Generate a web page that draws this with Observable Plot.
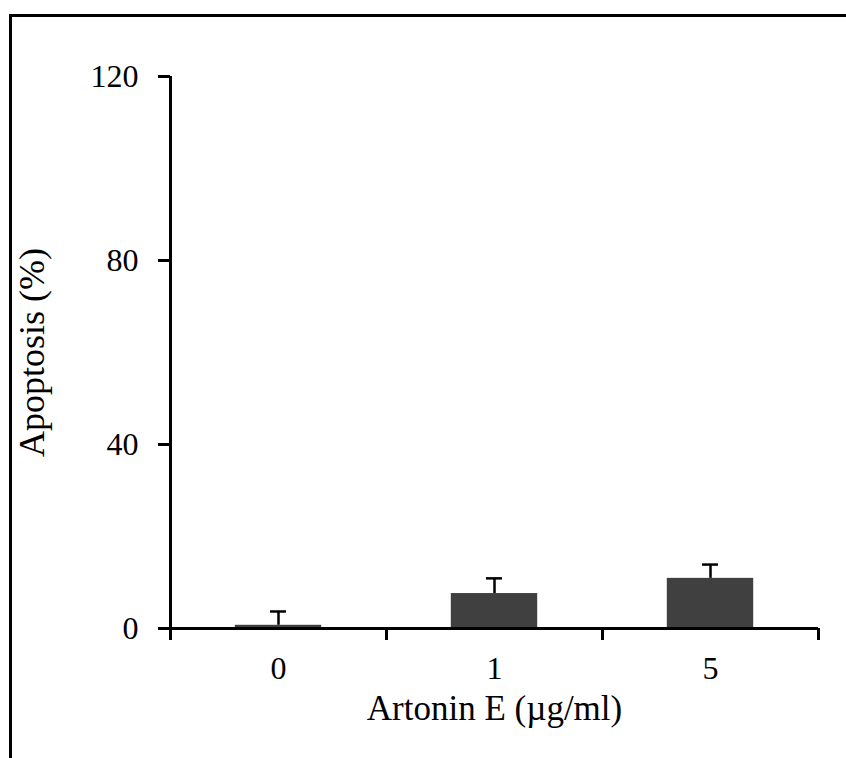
<!DOCTYPE html>
<html>
<head>
<meta charset="utf-8">
<script src="https://cdn.jsdelivr.net/npm/d3@7"></script>
<script src="https://cdn.jsdelivr.net/npm/@observablehq/plot@0.6"></script>
<style>
  html, body { margin: 0; padding: 0; background: #fff; overflow: hidden; }
  #wrap { position: relative; width: 846px; height: 758px; }
  #border { position: absolute; left: 9px; top: 14px; width: 900px; height: 800px;
            border-left: 3px solid #000; border-top: 3px solid #000; pointer-events: none; }
</style>
</head>
<body>
<div id="wrap"><div id="border"></div></div>
<script>
const categories = ["0", "1", "5"];
const values = [0.7, 7.6, 10.9];
const errors = [3.0, 3.3, 3.0];
const yTicks = [0, 40, 80, 120];
const xLabel = "Artonin E (µg/ml)";
const yLabel = "Apoptosis (%)";

const data = categories.map((c, i) => ({i, cat: c, value: values[i], err: errors[i]}));
const font = "'Liberation Serif', 'Times New Roman', serif";

const chart = Plot.plot({
  width: 846,
  height: 758,
  marginLeft: 170,
  marginRight: 28,
  marginTop: 76,
  marginBottom: 130,
  style: {fontFamily: font, fontSize: "32px", color: "#000", background: "transparent"},
  x: {domain: [0, categories.length], axis: null},
  y: {domain: [0, 120], axis: null},
  marks: [
    Plot.rectY(data, {x1: d => d.i + 0.3, x2: d => d.i + 0.7, y: "value", fill: "#404040"}),
    Plot.ruleX(data, {x: d => d.i + 0.5, y1: "value", y2: d => d.value + d.err, stroke: "#000", strokeWidth: 2.5}),
    Plot.ruleY(data, {x1: d => d.i + 0.463, x2: d => d.i + 0.537, y: d => d.value + d.err, stroke: "#000", strokeWidth: 2.5}),
    // y axis line
    Plot.ruleX([0], {y1: 0, y2: 120, stroke: "#000", strokeWidth: 3}),
    // x axis line
    Plot.ruleY([0], {x1: 0, x2: categories.length, stroke: "#000", strokeWidth: 3}),
    Plot.axisY({ticks: yTicks, tickSize: 12, tickPadding: 20, strokeWidth: 3, stroke: "#000", fontSize: 32, fill: "#000", tickFormat: d => String(d), label: null}),
    Plot.axisX({ticks: d3.range(categories.length + 1), tickSize: 12, strokeWidth: 3, stroke: "#000", tickFormat: () => "", label: null}),
    Plot.text(data, {x: d => d.i + 0.5, y: 0, text: "cat", dy: 40, fontSize: 32, fill: "#000"}),
    Plot.text([xLabel], {frameAnchor: "bottom", dy: 80, lineAnchor: "middle", textAnchor: "middle", text: d => d, fontSize: 35, fill: "#000"}),
    Plot.text([yLabel], {frameAnchor: "left", dx: -138, textAnchor: "middle", lineAnchor: "middle", rotate: -90, text: d => d, fontSize: 36, fill: "#000"})
  ]
});
document.getElementById("wrap").insertBefore(chart, document.getElementById("border"));
</script>
</body>
</html>
